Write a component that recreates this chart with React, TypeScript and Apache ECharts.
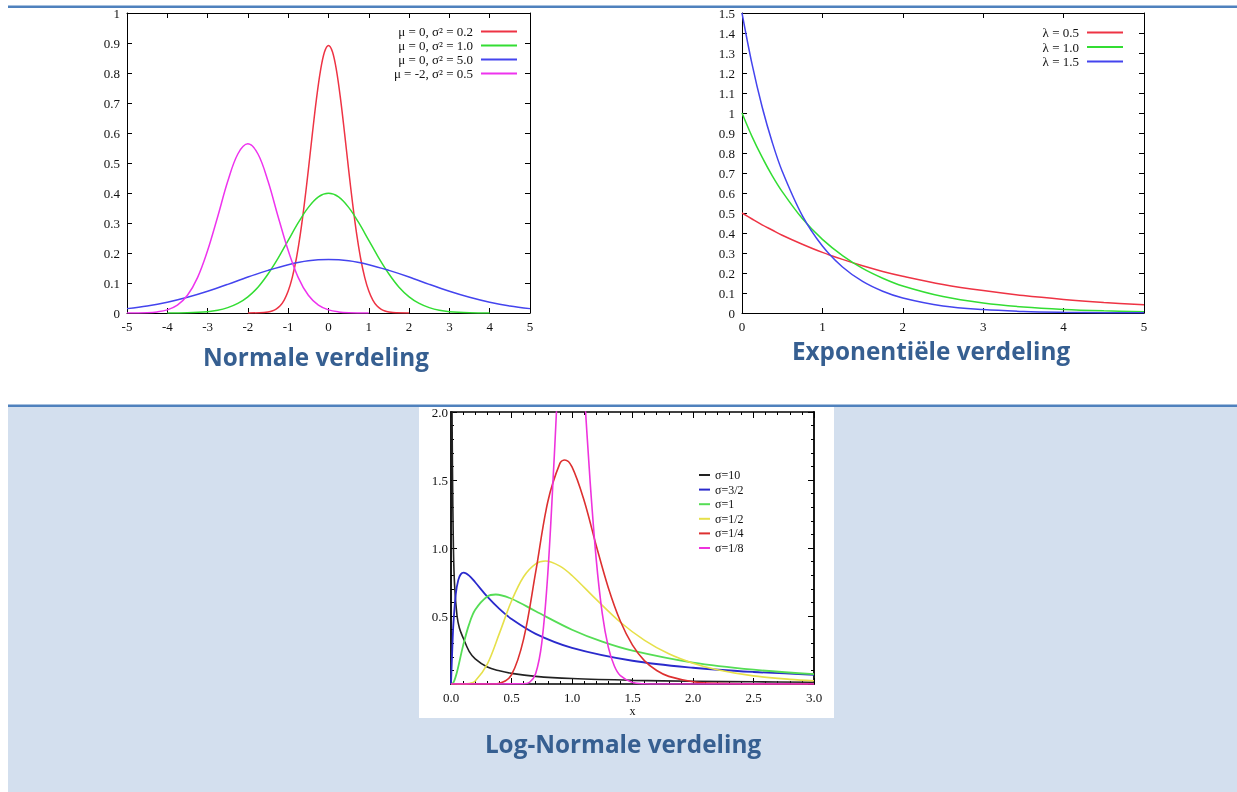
import React, { useEffect, useRef } from 'react';
import * as echarts from 'echarts';

// ---------- Normale verdeling ----------
const normalNames = ['μ = 0, σ² = 0.2', 'μ = 0, σ² = 1.0', 'μ = 0, σ² = 5.0', 'μ = -2, σ² = 0.5'];
const normalRed = [[-2,0],[-1.6,0.0015],[-1.5,0.0032],[-1.4,0.0066],[-1.3,0.013],[-1.2,0.024],[-1.1,0.043],[-1,0.073],[-0.9,0.118],[-0.8,0.18],[-0.7,0.262],[-0.6,0.363],[-0.5,0.477],[-0.4,0.598],[-0.3,0.712],[-0.2,0.807],[-0.1,0.87],[0,0.892],[0.1,0.87],[0.2,0.807],[0.3,0.712],[0.4,0.598],[0.5,0.477],[0.6,0.363],[0.7,0.262],[0.8,0.18],[0.9,0.118],[1,0.073],[1.1,0.043],[1.2,0.024],[1.3,0.013],[1.4,0.0066],[1.5,0.0032],[1.6,0.0015],[2,0]];
const normalGreen = [[-4,0],[-3.5,0.0009],[-3,0.0044],[-2.75,0.009],[-2.5,0.018],[-2.25,0.032],[-2,0.054],[-1.75,0.086],[-1.5,0.13],[-1.25,0.183],[-1,0.242],[-0.75,0.301],[-0.5,0.352],[-0.25,0.387],[0,0.399],[0.25,0.387],[0.5,0.352],[0.75,0.301],[1,0.242],[1.25,0.183],[1.5,0.13],[1.75,0.086],[2,0.054],[2.25,0.032],[2.5,0.018],[2.75,0.009],[3,0.0044],[3.5,0.0009],[4,0]];
const normalBlue = [[-5,0.0146],[-4.5,0.0235],[-4,0.036],[-3.5,0.0524],[-3,0.0725],[-2.5,0.0955],[-2,0.12],[-1.5,0.142],[-1,0.161],[-0.5,0.174],[0,0.178],[0.5,0.174],[1,0.161],[1.5,0.142],[2,0.12],[2.5,0.0955],[3,0.0725],[3.5,0.0524],[4,0.036],[4.5,0.0235],[5,0.0146]];
const normalMagenta = [[-5,0],[-4.5,0.0011],[-4.25,0.0036],[-4,0.0103],[-3.75,0.026],[-3.5,0.059],[-3.25,0.118],[-3,0.208],[-2.75,0.321],[-2.5,0.439],[-2.25,0.53],[-2,0.564],[-1.75,0.53],[-1.5,0.439],[-1.25,0.321],[-1,0.208],[-0.75,0.118],[-0.5,0.059],[-0.25,0.026],[0,0.0103],[0.25,0.0036],[0.5,0.0011],[1,0]];

// ---------- Exponentiële verdeling ----------
const expNames = ['λ = 0.5', 'λ = 1.0', 'λ = 1.5'];
const expX = [0,0.125,0.25,0.375,0.5,0.75,1,1.25,1.5,1.75,2,2.5,3,3.5,4,4.5,5];
const expRed = [0.5,0.47,0.441,0.415,0.389,0.344,0.303,0.268,0.236,0.208,0.184,0.143,0.112,0.087,0.068,0.053,0.041];
const expGreen = [1,0.882,0.779,0.687,0.607,0.472,0.368,0.287,0.223,0.174,0.135,0.082,0.05,0.03,0.018,0.011,0.0067];
const expBlue = [1.5,1.244,1.031,0.855,0.709,0.487,0.335,0.23,0.158,0.109,0.075,0.035,0.017,0.0079,0.0037,0.0018,0.0008];

// ---------- Log-Normale verdeling ----------
const logNames = ['σ=10', 'σ=3/2', 'σ=1', 'σ=1/2', 'σ=1/4', 'σ=1/8'];
const logBlack = [[0.004,2.6],[0.012,1.6],[0.02,1.0],[0.03,0.72],[0.05,0.5],[0.07,0.41],[0.1,0.34],[0.15,0.24],[0.2,0.185],[0.3,0.125],[0.4,0.097],[0.5,0.078],[0.7,0.056],[1,0.04],[1.5,0.027],[2,0.02],[2.5,0.016],[3,0.013]];
const logBlue = [[0,0],[0.01,0.239],[0.02,0.444],[0.04,0.665],[0.06,0.764],[0.08,0.806],[0.105,0.819],[0.15,0.797],[0.2,0.748],[0.3,0.642],[0.4,0.552],[0.5,0.478],[0.7,0.369],[1,0.266],[1.5,0.171],[2,0.1195],[2.5,0.0883],[3,0.0678]];
const logGreen = [[0,0],[0.02,0.0095],[0.05,0.09],[0.1,0.282],[0.15,0.44],[0.2,0.546],[0.3,0.644],[0.37,0.658],[0.5,0.627],[0.7,0.535],[1,0.399],[1.25,0.311],[1.5,0.245],[2,0.157],[2.5,0.105],[3,0.0727]];
const logYellow = [[0,0],[0.1,0.0002],[0.15,0.004],[0.2,0.0225],[0.3,0.1465],[0.4,0.372],[0.5,0.61],[0.6,0.789],[0.7,0.884],[0.78,0.904],[0.9,0.867],[1,0.798],[1.2,0.622],[1.4,0.454],[1.6,0.321],[1.8,0.222],[2,0.153],[2.2,0.105],[2.5,0.0595],[2.8,0.0342],[3,0.0238]];
const logRed = [[0,0],[0.35,0.0005],[0.4,0.0048],[0.5,0.068],[0.6,0.33],[0.7,0.824],[0.8,1.34],[0.9,1.622],[0.94,1.647],[1,1.596],[1.1,1.349],[1.2,1.019],[1.3,0.708],[1.4,0.461],[1.5,0.286],[1.6,0.17],[1.7,0.099],[1.8,0.056],[2,0.017],[2.2,0.005],[2.5,0.0008],[3,0]];
const logMagenta = [[0,0],[0.6,0.0013],[0.65,0.013],[0.7,0.078],[0.75,0.301],[0.8,0.811],[0.85,1.613],[0.9,2.485],[0.95,3.088],[0.985,3.217],[1,3.192],[1.05,2.816],[1.1,2.17],[1.15,1.486],[1.2,0.918],[1.25,0.519],[1.3,0.271],[1.35,0.132],[1.4,0.061],[1.5,0.011],[1.6,0.0017],[1.7,0.0002],[3,0]];

const titles = ['Normale verdeling', 'Exponentiële verdeling', 'Log-Normale verdeling'];

const SERIF = 'Liberation Serif';
const TITLE_BLUE = '#365f91';
const TITLE_FONT = 'bold 24.3px "Open Sans"';

function xAxisPair(gridIndex: number, min: number, max: number, interval: number, o: any = {}) {
  const lw = o.lineWidth || 1;
  const base = {
    type: 'value', gridIndex, min, max, interval,
    splitLine: { show: false },
    axisLine: { show: true, onZero: false, lineStyle: { color: '#000', width: lw } },
    axisTick: { show: true, inside: true, length: o.tickLen || 6, lineStyle: { color: '#000', width: 1 } },
    minorTick: o.minor ? { show: true, splitNumber: 5, length: 3, lineStyle: { color: '#000' } } : { show: false },
  };
  return [
    {
      ...base, position: 'bottom',
      axisLabel: { show: true, fontFamily: SERIF, fontSize: o.fontSize || 13, color: '#111', margin: o.margin || 7, formatter: o.formatter },
      name: o.name, nameLocation: 'middle', nameGap: o.nameGap || 20,
      nameTextStyle: { fontFamily: SERIF, fontSize: 12, color: '#111' },
    },
    { ...base, position: 'top', axisLabel: { show: false } },
  ];
}

function yAxisPair(gridIndex: number, min: number, max: number, interval: number, o: any = {}) {
  const lw = o.lineWidth || 1;
  const base = {
    type: 'value', gridIndex, min, max, interval,
    splitLine: { show: false },
    axisLine: { show: true, onZero: false, lineStyle: { color: '#000', width: lw } },
    axisTick: { show: true, inside: true, length: o.tickLen || 6, lineStyle: { color: '#000', width: 1 } },
    minorTick: o.minor ? { show: true, splitNumber: 5, length: 3, lineStyle: { color: '#000' } } : { show: false },
  };
  return [
    {
      ...base, position: 'left',
      axisLabel: { show: true, fontFamily: SERIF, fontSize: o.fontSize || 13, color: '#111', margin: o.margin || 7, formatter: o.formatter },
    },
    { ...base, position: 'right', axisLabel: { show: false } },
  ];
}

function line(name: string, data: any[], color: string, grid: number, width = 1.5) {
  return {
    type: 'line', name, data, xAxisIndex: grid * 2, yAxisIndex: grid * 2,
    symbol: 'none', showSymbol: false, smooth: 0.35, clip: true,
    lineStyle: { color, width }, itemStyle: { color }, z: 3,
  };
}

const legendCommon = {
  orient: 'vertical', selectedMode: false, padding: 0,
  itemStyle: { opacity: 0, borderWidth: 0 },
};

function buildOption() {
  const fmt1 = (v: number) => v.toFixed(1);
  return {
    animation: false,
    backgroundColor: 'transparent',
    grid: [
      { left: 127, top: 13, width: 403, height: 300 },
      { left: 742, top: 13, width: 402, height: 300 },
      { left: 451, top: 412, width: 363, height: 272 },
    ],
    xAxis: [
      ...xAxisPair(0, -5, 5, 1, { tickLen: 5 }),
      ...xAxisPair(1, 0, 5, 1, { tickLen: 5 }),
      ...xAxisPair(2, 0, 3, 0.5, { tickLen: 6, minor: true, lineWidth: 1.6, formatter: fmt1, name: 'x', nameGap: 21, margin: 7 }),
    ],
    yAxis: [
      ...yAxisPair(0, 0, 1, 0.1, { tickLen: 5 }),
      ...yAxisPair(1, 0, 1.5, 0.1, { tickLen: 5 }),
      ...yAxisPair(2, 0, 2, 0.5, { tickLen: 6, minor: true, lineWidth: 1.8, margin: 3, formatter: (v: number) => (v === 0 ? '' : v.toFixed(1)) }),
    ],
    legend: [
      {
        ...legendCommon, data: normalNames, right: 1237 - 518, top: 25, align: 'right',
        itemWidth: 36, itemHeight: 14, itemGap: 1,
        textStyle: { fontFamily: SERIF, fontSize: 13, color: '#111', padding: [0, 3, 0, 0] },
      },
      {
        ...legendCommon, data: expNames, right: 1237 - 1124, top: 26, align: 'right',
        itemWidth: 36, itemHeight: 14, itemGap: 1.5,
        textStyle: { fontFamily: SERIF, fontSize: 13, color: '#111', padding: [0, 3, 0, 0] },
      },
      {
        ...legendCommon, data: logNames, left: 698, top: 469, align: 'left',
        itemWidth: 11, itemHeight: 12, itemGap: 2.6,
        textStyle: { fontFamily: SERIF, fontSize: 12, color: '#111' },
      },
    ],
    series: [
      line(normalNames[0], normalRed, '#ee3344', 0),
      line(normalNames[1], normalGreen, '#33dd33', 0),
      line(normalNames[2], normalBlue, '#4444ee', 0),
      line(normalNames[3], normalMagenta, '#ee33ee', 0),
      line(expNames[0], expX.map((x, i) => [x, expRed[i]]), '#ee3344', 1),
      line(expNames[1], expX.map((x, i) => [x, expGreen[i]]), '#33dd33', 1),
      line(expNames[2], expX.map((x, i) => [x, expBlue[i]]), '#4444ee', 1),
      line(logNames[0], logBlack, '#222222', 2, 1.6),
      line(logNames[1], logBlue, '#2a2acc', 2, 1.8),
      line(logNames[2], logGreen, '#55dd55', 2, 1.8),
      line(logNames[3], logYellow, '#e6e04a', 2, 1.6),
      line(logNames[4], logRed, '#dd3030', 2, 1.6),
      line(logNames[5], logMagenta, '#ee33dd', 2, 1.6),
    ],
    graphic: {
      elements: [
        { type: 'rect', z: -10, silent: true, shape: { x: 8, y: 407, width: 1229, height: 385 }, style: { fill: '#d3dfee' } },
        { type: 'rect', z: -9, silent: true, shape: { x: 102, y: 8, width: 433, height: 325 }, style: { fill: '#ffffff' } },
        { type: 'rect', z: -9, silent: true, shape: { x: 718, y: 8, width: 430, height: 325 }, style: { fill: '#ffffff' } },
        { type: 'rect', z: -9, silent: true, shape: { x: 419, y: 407, width: 415, height: 311 }, style: { fill: '#ffffff' } },
        { type: 'rect', z: -8, silent: true, shape: { x: 8, y: 5.5, width: 1229, height: 2.5 }, style: { fill: '#4f81bd' } },
        { type: 'rect', z: -8, silent: true, shape: { x: 8, y: 404.5, width: 1229, height: 2.5 }, style: { fill: '#4f81bd' } },
        { type: 'text', x: 316, y: 356, style: { text: titles[0], fill: TITLE_BLUE, font: TITLE_FONT, textAlign: 'center', textVerticalAlign: 'middle' } },
        { type: 'text', x: 931, y: 350, style: { text: titles[1], fill: TITLE_BLUE, font: TITLE_FONT, textAlign: 'center', textVerticalAlign: 'middle' } },
        { type: 'text', x: 623, y: 743, style: { text: titles[2], fill: TITLE_BLUE, font: TITLE_FONT, textAlign: 'center', textVerticalAlign: 'middle' } },
      ],
    },
  };
}

export default function App() {
  const ref = useRef<HTMLDivElement>(null);
  useEffect(() => {
    const chart = echarts.init(ref.current!, null, { renderer: 'svg' });
    chart.setOption(buildOption() as any);
    return () => chart.dispose();
  }, []);
  return <div ref={ref} style={{ position: 'fixed', left: 0, top: 0, width: 1237, height: 792 }} />;
}
